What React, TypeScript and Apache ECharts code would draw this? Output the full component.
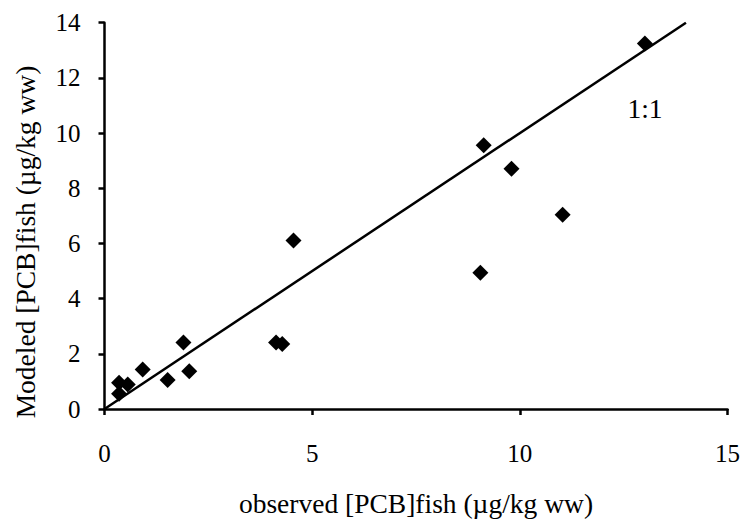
import React, { useEffect, useRef } from "react";
import * as echarts from "echarts";

const observed = [0.35, 0.35, 0.56, 0.92, 1.52, 1.9, 2.04, 4.13, 4.28, 4.55, 9.05, 9.13, 9.8, 11.03, 13.01];
const modeled = [0.95, 0.55, 0.89, 1.43, 1.05, 2.41, 1.37, 2.41, 2.36, 6.11, 4.94, 9.56, 8.71, 7.04, 13.25];
const oneToOneLine = [
  [0, 0],
  [14, 14],
];
const xTicks = { min: 0, max: 15, interval: 5 };
const yTicks = { min: 0, max: 14, interval: 2 };
const xTitle = "observed [PCB]fish (µg/kg ww)";
const yTitle = "Modeled [PCB]fish (µg/kg ww)";
const lineLabel = "1:1";

const FONT = "Liberation Serif";

export default function App() {
  const ref = useRef<HTMLDivElement>(null);
  useEffect(() => {
    document.body.style.margin = "0";
    document.body.style.overflow = "hidden";
    document.documentElement.style.overflow = "hidden";
    const chart = echarts.init(ref.current!, null, { renderer: "svg" });
    const points = observed.map((x, i) => [x, modeled[i]]);
    chart.setOption({
      animation: false,
      backgroundColor: "#ffffff",
      grid: { left: 104.5, top: 22.7, right: 13.5, bottom: 107.7, containLabel: false },
      xAxis: {
        type: "value",
        min: xTicks.min,
        max: xTicks.max,
        interval: xTicks.interval,
        name: xTitle,
        nameLocation: "middle",
        nameGap: 80,
        nameTextStyle: { fontFamily: FONT, fontSize: 27.5, color: "#000" },
        axisLine: { show: true, onZero: false, lineStyle: { color: "#000", width: 2.5 } },
        axisTick: { show: true, inside: false, length: 6, lineStyle: { color: "#000", width: 2.5 } },
        axisLabel: { fontFamily: FONT, fontSize: 25, color: "#000", margin: 32 },
        splitLine: { show: false },
      },
      yAxis: {
        type: "value",
        min: yTicks.min,
        max: yTicks.max,
        interval: yTicks.interval,
        axisLine: { show: true, onZero: false, lineStyle: { color: "#000", width: 2.5 } },
        axisTick: { show: true, inside: false, length: 6, lineStyle: { color: "#000", width: 2.5 } },
        axisLabel: { fontFamily: FONT, fontSize: 25, color: "#000", margin: 24 },
        splitLine: { show: false },
      },
      graphic: [
        {
          type: "text",
          x: 25,
          y: 242,
          rotation: Math.PI / 2,
          style: {
            text: yTitle,
            font: `27.5px ${FONT}`,
            fill: "#000",
            align: "center",
            verticalAlign: "middle",
          },
        },
        {
          type: "text",
          x: 645,
          y: 108,
          style: {
            text: lineLabel,
            font: `27.5px ${FONT}`,
            fill: "#000",
            align: "center",
            verticalAlign: "middle",
          },
        },
      ],
      series: [
        {
          type: "line",
          data: oneToOneLine,
          showSymbol: false,
          symbol: "none",
          lineStyle: { color: "#000", width: 2.5 },
          z: 2,
        },
        {
          type: "scatter",
          data: points,
          symbol: "diamond",
          symbolSize: 16,
          itemStyle: { color: "#000", opacity: 1 },
          z: 3,
        },
      ],
    });
    return () => chart.dispose();
  }, []);
  return <div ref={ref} style={{ width: 743, height: 522, overflow: "hidden", display: "block" }} />;
}
